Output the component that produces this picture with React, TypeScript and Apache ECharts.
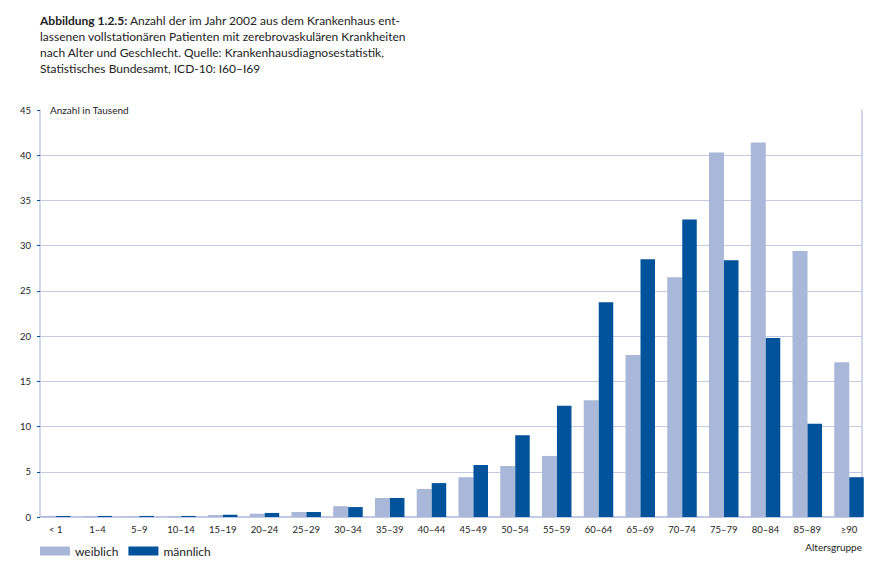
import React, { useEffect, useRef } from "react";
import * as echarts from "echarts";

const categories = ["< 1", "1–4", "5–9", "10–14", "15–19", "20–24", "25–29", "30–34", "35–39", "40–44", "45–49", "50–54", "55–59", "60–64", "65–69", "70–74", "75–79", "80–84", "85–89", "≥90"];
const weiblich = [0.12, 0.1, 0.05, 0.1, 0.22, 0.35, 0.55, 1.2, 2.1, 3.1, 4.4, 5.65, 6.75, 12.9, 17.9, 26.5, 40.3, 41.4, 29.4, 17.1];
const maennlich = [0.12, 0.12, 0.12, 0.12, 0.25, 0.45, 0.55, 1.1, 2.1, 3.75, 5.75, 9.05, 12.3, 23.75, 28.5, 32.9, 28.4, 19.8, 10.3, 4.4];
const yTicks = { min: 0, max: 45, interval: 5 };

const FONT = "Lato, 'Open Sans', sans-serif";
const LIGHT = "#a9b8d9";
const DARK = "#00529b";
const GRID = "#c3c9e4";

export default function App() {
  const ref = useRef<HTMLDivElement>(null);
  useEffect(() => {
    document.body.style.margin = "0";
    const chart = echarts.init(ref.current!, null, { renderer: "svg" });
    chart.setOption({
      animation: false,
      textStyle: { fontFamily: FONT },
      title: {
        left: 35,
        top: 7,
        text:
          "{b|Abbildung 1.2.5:} Anzahl der im Jahr 2002 aus dem Krankenhaus ent-\nlassenen vollstationären Patienten mit zerebrovaskulären Krankheiten\nnach Alter und Geschlecht. Quelle: Krankenhausdiagnosestatistik,\nStatistisches Bundesamt, ICD-10: I60–I69",
        textStyle: {
          fontFamily: FONT,
          fontSize: 12,
          fontWeight: "normal",
          color: "#222",
          lineHeight: 16,
          rich: { b: { fontFamily: FONT, fontSize: 12, fontWeight: "bold", color: "#222", lineHeight: 16 } },
        },
      },
      legend: {
        left: 35,
        top: 540,
        itemWidth: 30,
        itemHeight: 9,
        itemGap: 10,
        icon: "rect",
        textStyle: { fontFamily: FONT, fontSize: 12, color: "#222" },
        data: ["weiblich", "männlich"],
      },
      grid: [
        { left: 34.8, right: 13.1, top: 110, bottom: 54 },
        { left: 40, right: 21, top: 110, bottom: 54 },
      ],
      xAxis: [
        {
          type: "category",
          gridIndex: 0,
          data: categories,
          axisLine: { show: false },
          axisTick: { show: false },
          axisLabel: { interval: 0, fontFamily: FONT, fontSize: 9.5, color: "#222", margin: 7 },
        },
        {
          type: "value",
          gridIndex: 1,
          min: 0,
          max: 1,
          axisLine: { show: true, lineStyle: { color: GRID, width: 2 } },
          axisTick: { show: false },
          axisLabel: { show: false },
          splitLine: { show: false },
        },
      ],
      yAxis: [
        { type: "value", gridIndex: 0, min: yTicks.min, max: yTicks.max, show: false },
        {
          type: "value",
          gridIndex: 1,
          min: yTicks.min,
          max: yTicks.max,
          interval: yTicks.interval,
          axisLine: { show: true, lineStyle: { color: GRID, width: 1.5 } },
          axisTick: { show: true, length: 3, lineStyle: { color: DARK, width: 1 } },
          axisLabel: { fontFamily: FONT, fontSize: 9.5, color: "#222", margin: 9 },
          splitLine: { show: true, showMaxLine: false, lineStyle: { color: GRID, width: 1 } },
        },
        {
          type: "value",
          gridIndex: 1,
          position: "right",
          min: yTicks.min,
          max: yTicks.max,
          axisLine: { show: true, lineStyle: { color: GRID, width: 1.5 } },
          axisTick: { show: false },
          axisLabel: { show: false },
          splitLine: { show: false },
        },
      ],
      series: [
        {
          name: "weiblich",
          type: "bar",
          xAxisIndex: 0,
          yAxisIndex: 0,
          data: weiblich,
          barWidth: 15,
          barGap: "0%",
          itemStyle: { color: LIGHT },
          z: 1,
        },
        {
          name: "männlich",
          type: "bar",
          xAxisIndex: 0,
          yAxisIndex: 0,
          data: maennlich,
          barWidth: 14.5,
          barGap: "0%",
          itemStyle: { color: DARK },
          z: 1,
        },
      ],
      graphic: [
        {
          type: "text",
          x: 50,
          y: 110,
          style: { text: "Anzahl in Tausend", font: `10px ${FONT}`, fill: "#222", verticalAlign: "middle" },
        },
        {
          type: "text",
          x: 862,
          y: 547,
          style: { text: "Altersgruppe", font: `10px ${FONT}`, fill: "#222", align: "right", verticalAlign: "middle" },
        },
      ],
    });
    return () => chart.dispose();
  }, []);
  return <div ref={ref} style={{ position: "absolute", left: 0, top: 0, width: 883, height: 571 }} />;
}
